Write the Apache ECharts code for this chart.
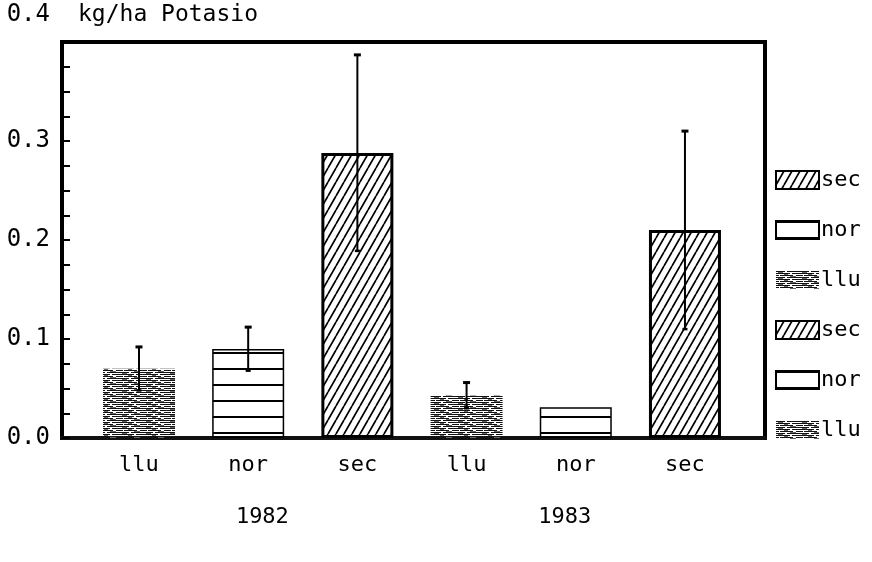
<!DOCTYPE html>
<html>
<head>
<meta charset="utf-8">
<script src="https://cdn.jsdelivr.net/npm/echarts@6/dist/echarts.min.js"></script>
<style>
  html, body { margin: 0; padding: 0; background: #fff; }
  #chart { width: 872px; height: 562px; }
</style>
</head>
<body>
<div id="chart"></div>
<script>
// Potassium (kg/ha) by treatment and year
const categories = ['llu', 'nor', 'sec', 'llu', 'nor', 'sec'];
const barYears = ['1982', '1982', '1982', '1983', '1983', '1983'];
const years = ['1982', '1983'];
const yearLabelPos = [1.13, 3.9];
const potasio = [0.070, 0.090, 0.288, 0.043, 0.031, 0.210];
const errHalf = [0.022, 0.022, 0.099, 0.013, null, 0.100];
const yTickValues = [0.0, 0.1, 0.2, 0.3, 0.4];
const legendOrder = ['sec 1983', 'nor 1983', 'llu 1983', 'sec 1982', 'nor 1982', 'llu 1982'];

const FONT = 'DejaVu Sans Mono';

// Fill patterns for the three treatments
function hatchFill() {
  const c = document.createElement('canvas');
  c.width = 8; c.height = 14;
  const g = c.getContext('2d');
  g.strokeStyle = '#000';
  g.lineWidth = 1.7;
  g.beginPath();
  g.moveTo(0, 14); g.lineTo(8, 0);
  g.moveTo(-8, 14); g.lineTo(0, 0);
  g.moveTo(8, 14); g.lineTo(16, 0);
  g.stroke();
  return { image: c, repeat: 'repeat' };
}
function stripeFill() {
  const c = document.createElement('canvas');
  c.width = 4; c.height = 16;
  const g = c.getContext('2d');
  g.fillStyle = '#000';
  g.fillRect(0, 0, 4, 2);
  return { image: c, repeat: 'repeat' };
}
function denseFill() {
  const c = document.createElement('canvas');
  c.width = 24; c.height = 6;
  const g = c.getContext('2d');
  g.fillStyle = '#111';
  g.fillRect(0, 0, 9, 1); g.fillRect(11, 0, 13, 1);
  g.fillRect(0, 2, 14, 1); g.fillRect(16, 2, 8, 1);
  g.fillRect(0, 4, 3, 1); g.fillRect(4, 4, 13, 1); g.fillRect(20, 4, 4, 1);
  g.fillStyle = '#666';
  g.fillRect(2, 1, 5, 1); g.fillRect(14, 5, 6, 1); g.fillRect(8, 3, 4, 1);
  return { image: c, repeat: 'repeat' };
}

const styles = {
  sec: { color: hatchFill(), borderColor: '#000', borderWidth: 3 },
  nor: { color: stripeFill(), borderColor: '#000', borderWidth: 1.5 },
  llu: { color: denseFill(), borderWidth: 0 }
};

const barSeries = categories.map((cat, i) => ({
  name: cat + ' ' + barYears[i],
  type: 'bar',
  xAxisIndex: 0,
  barWidth: 72,
  barGap: '-100%',
  data: [[i, potasio[i]]],
  itemStyle: styles[cat],
  z: 2
}));

const errData = [];
potasio.forEach((v, i) => {
  if (errHalf[i] != null) errData.push([i, v - errHalf[i], v + errHalf[i]]);
});

const errSeries = {
  type: 'custom',
  name: 'err',
  xAxisIndex: 0,
  data: errData,
  encode: { x: 0, y: [1, 2] },
  z: 5,
  renderItem(params, api) {
    const x = api.value(0);
    const top = api.coord([x, api.value(2)]);
    const bot = api.coord([x, api.value(1)]);
    return {
      type: 'group',
      children: [
        { type: 'line', shape: { x1: top[0], y1: top[1], x2: bot[0], y2: bot[1] }, style: { stroke: '#000', lineWidth: 2 } },
        { type: 'line', shape: { x1: top[0] - 3.5, y1: top[1], x2: top[0] + 3.5, y2: top[1] }, style: { stroke: '#000', lineWidth: 3 } },
        { type: 'line', shape: { x1: bot[0] - 2.5, y1: bot[1], x2: bot[0] + 2.5, y2: bot[1] }, style: { stroke: '#000', lineWidth: 2.5 } }
      ]
    };
  }
};

const chart = echarts.init(document.getElementById('chart'), null, { renderer: 'canvas' });
chart.setOption({
  backgroundColor: '#fff',
  animation: false,
  textStyle: { fontFamily: FONT, color: '#000' },
  grid: {
    left: 62, right: 107, top: 42, bottom: 124,
    show: true, borderColor: '#000', borderWidth: 4, backgroundColor: 'transparent'
  },
  legend: {
    data: legendOrder,
    orient: 'vertical',
    left: 770,
    top: 164,
    icon: 'rect',
    itemWidth: 43,
    itemHeight: 18,
    itemGap: 28,
    formatter: name => name.split(' ')[0],
    textStyle: { fontFamily: FONT, fontSize: 22, color: '#000', lineHeight: 22, padding: [0, 0, 0, -3] },
    selectedMode: false
  },
  xAxis: [
    {
      type: 'value',
      min: -0.705,
      max: 5.733,
      axisLine: { show: true, onZero: false, lineStyle: { color: '#111', width: 4 } },
      axisTick: { show: false },
      splitLine: { show: false },
      axisLabel: {
        customValues: categories.map((c, i) => i),
        formatter: v => categories[Math.round(v)],
        fontFamily: FONT, fontSize: 22, color: '#000', margin: 16
      }
    },
    {
      type: 'value',
      position: 'bottom',
      min: -0.705,
      max: 5.733,
      axisLine: { show: false, onZero: false },
      axisTick: { show: false },
      splitLine: { show: false },
      axisLabel: {
        customValues: yearLabelPos,
        formatter: v => years[yearLabelPos.indexOf(v)],
        fontFamily: FONT, fontSize: 22, color: '#000', margin: 68
      }
    }
  ],
  yAxis: {
    type: 'value',
    min: 0,
    max: 0.4,
    interval: 0.1,
    name: 'kg/ha Potasio',
    nameLocation: 'end',
    nameGap: 27,
    nameTextStyle: { fontFamily: FONT, fontSize: 23, color: '#000', align: 'left', verticalAlign: 'middle', padding: [0, 0, 0, 16] },
    axisLine: { show: true, onZero: false, lineStyle: { color: '#000', width: 3 } },
    axisTick: { show: true, inside: true, length: 8, lineStyle: { color: '#000', width: 2 } },
    minorTick: { show: true, splitNumber: 4, length: 8, lineStyle: { color: '#000', width: 2 } },
    splitLine: { show: false },
    axisLabel: {
      customValues: yTickValues,
      margin: 12,
      fontFamily: FONT, fontSize: 24, color: '#000',
      formatter: v => (v >= 0.4 ? '{top|' + v.toFixed(1) + '}' : v.toFixed(1)),
      rich: { top: { fontFamily: FONT, fontSize: 24, color: '#000', padding: [0, 0, 54, 0] } }
    }
  },
  series: barSeries.concat([errSeries])
});
</script>
</body>
</html>
